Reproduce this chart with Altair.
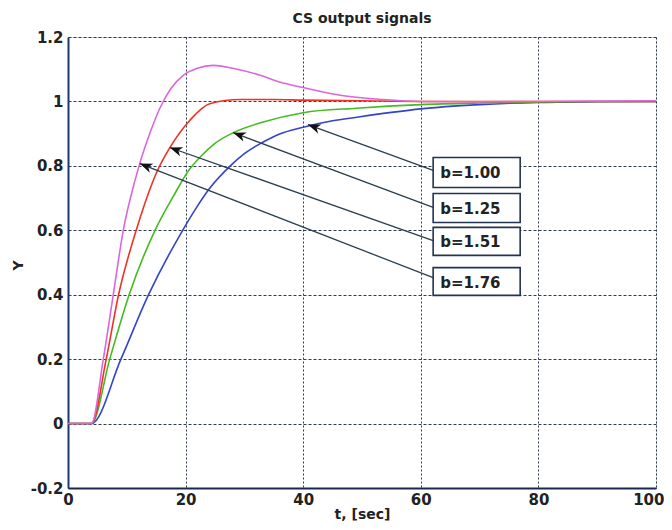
import math
import altair as alt
import pandas as pd

# ---- curve data ----
t_b100 = [0, 4, 9.0, 13.7, 19.5, 21.9, 24, 27.6, 30, 33.2, 36, 40, 45, 49.1, 55, 60, 70, 80, 90, 100]
y_b100 = [0, 0, 0.2, 0.4, 0.6, 0.672, 0.728, 0.8, 0.838, 0.874, 0.899, 0.92, 0.94, 0.951, 0.966, 0.977, 0.99, 0.997, 0.999, 1.0]

t_b125 = [0, 4, 7.1, 10.4, 14.8, 17.9, 20.7, 22.4, 25, 28.1, 33.2, 40, 49.1, 60, 70, 80, 90, 100]
y_b125 = [0, 0, 0.2, 0.4, 0.6, 0.705, 0.79, 0.826, 0.87, 0.903, 0.936, 0.965, 0.979, 0.99, 0.995, 0.998, 1.0, 1.0]

t_b151 = [0, 4, 6.5, 8.6, 11.6, 14.4, 15.1, 17.3, 20.7, 24.1, 29.3, 35, 40, 50, 60, 80, 100]
y_b151 = [0, 0, 0.2, 0.4, 0.6, 0.75, 0.781, 0.856, 0.941, 0.993, 1.006, 1.006, 1.004, 1.002, 1.0, 1.0, 1.0]

t_b176 = [0, 4, 6.0, 7.7, 9.4, 11.4, 12.2, 14, 15.6, 17.5, 19.6, 22, 24.7, 28, 32.7, 36, 40, 46.3, 53.6, 60, 70, 80, 90, 100]
y_b176 = [0, 0, 0.2, 0.4, 0.6, 0.755, 0.807, 0.905, 0.978, 1.04, 1.081, 1.103, 1.112, 1.103, 1.081, 1.06, 1.043, 1.019, 1.006, 1.0, 0.999, 1.0, 1.001, 1.002]

series_names = ["b=1.00", "b=1.25", "b=1.51", "b=1.76"]
series_colors = ["#3344cc", "#44bb22", "#ee3322", "#dd66dd"]

# ---- annotation data ----
ann_labels = ["b=1.00", "b=1.25", "b=1.51", "b=1.76"]
tip_t = [40.8, 28.1, 17.3, 12.2]
tip_y = [0.928, 0.903, 0.857, 0.807]
box_t0 = 62.1
box_t1 = 76.9
box_ytop = [0.826, 0.714, 0.609, 0.484]
box_ybot = [0.733, 0.624, 0.522, 0.398]
line_end_y = [0.786, 0.671, 0.568, 0.453]
text_t = 63.3

x_ticks = [0, 20, 40, 60, 80, 100]
y_ticks = [-0.2, 0, 0.2, 0.4, 0.6, 0.8, 1, 1.2]

W, H = 588, 451
PX_X = W / 100.0
PX_Y = H / 1.4

rows = []
for name, ts, ys in zip(series_names, [t_b100, t_b125, t_b151, t_b176],
                        [y_b100, y_b125, y_b151, y_b176]):
    for t, y in zip(ts, ys):
        rows.append({"series": name, "t": t, "y": y})
curves = pd.DataFrame(rows)

ann = pd.DataFrame({
    "label": ann_labels,
    "tip_t": tip_t,
    "tip_y": tip_y,
    "end_t": [box_t0] * 4,
    "end_y": line_end_y,
    "bx0": [box_t0] * 4,
    "bx1": [box_t1] * 4,
    "by0": box_ybot,
    "by1": box_ytop,
    "txt_t": [text_t] * 4,
    "txt_y": [(a + b) / 2 for a, b in zip(box_ytop, box_ybot)],
})
ann["ang"] = [
    math.degrees(math.atan2((ty - ey) * PX_Y, (et - tt) * PX_X))
    for tt, ty, et, ey in zip(ann.tip_t, ann.tip_y, ann.end_t, ann.end_y)
]

FONT = "DejaVu Sans"
TXT = "#222222"

xscale = alt.Scale(domain=[0, 100], nice=False, zero=False)
yscale = alt.Scale(domain=[-0.2, 1.2], nice=False, zero=False)

x_axis = alt.Axis(values=x_ticks, grid=True, gridDash=[2, 2], gridColor="#24304a",
                  gridOpacity=0.95, ticks=False, labelPadding=4, domainColor="#1a2850",
                  domainWidth=2, labelFont=FONT, labelFontWeight="bold", labelFontSize=15,
                  labelColor=TXT,
                  labelAlign={"condition": {"test": "datum.value == 100", "value": "right"}, "value": "center"},
                  labelOffset={"condition": {"test": "datum.value == 100", "value": 8}, "value": 0},
                  title="t, [sec]", titleFont=FONT, titleFontSize=14,
                  titleFontWeight="bold", titleColor=TXT, titleX=294, titleY=30,
                  titleBaseline="alphabetic", titleAlign="center", labelFlush=False)
y_axis = alt.Axis(values=y_ticks, grid=True, gridDash=[3, 2], gridColor="#24304a",
                  gridOpacity=0.95, ticks=False, labelPadding=5, domainColor="#1a3a70",
                  domainWidth=2, labelFont=FONT, labelFontWeight="bold", labelFontSize=15,
                  labelColor=TXT, labelExpr="replace(format(datum.value, '~g'), '\u2212', '-')",
                  title="Y", titleFont=FONT, titleFontSize=14, titleFontWeight="bold",
                  titleColor=TXT, titleX=-50, titleY=228, titleBaseline="middle",
                  titleAlign="center", labelFlush=False)

lines = alt.Chart(curves).mark_line(strokeWidth=1.6, interpolate="monotone").encode(
    x=alt.X("t:Q", scale=xscale, axis=x_axis),
    y=alt.Y("y:Q", scale=yscale, axis=y_axis),
    color=alt.Color("series:N", scale=alt.Scale(domain=series_names, range=series_colors), legend=None),
    order=alt.Order("t:Q"),
)

arrow_lines = alt.Chart(ann).mark_rule(color="#2a4050", strokeWidth=1.3).encode(
    x=alt.X("tip_t:Q", scale=xscale),
    y=alt.Y("tip_y:Q", scale=yscale),
    x2="end_t:Q",
    y2="end_y:Q",
)

heads = alt.Chart(ann).mark_point(
    shape="M0,0 L1,-0.38 L0.72,0 L1,0.38 Z", filled=True, color="#111111",
    opacity=1, size=640, strokeWidth=0,
).encode(
    x=alt.X("tip_t:Q", scale=xscale),
    y=alt.Y("tip_y:Q", scale=yscale),
    angle=alt.Angle("ang:Q", scale=None),
)

boxes = alt.Chart(ann).mark_rect(fill="white", stroke="#233350", strokeWidth=1.6).encode(
    x=alt.X("bx0:Q", scale=xscale),
    x2="bx1:Q",
    y=alt.Y("by0:Q", scale=yscale),
    y2="by1:Q",
)

texts = alt.Chart(ann).mark_text(align="left", baseline="middle", font=FONT,
                                 fontWeight="bold", fontSize=15, color=TXT, dy=1).encode(
    x=alt.X("txt_t:Q", scale=xscale),
    y=alt.Y("txt_y:Q", scale=yscale),
    text="label:N",
)

chart = alt.layer(lines, arrow_lines, boxes, texts, heads).properties(
    width=W, height=H,
    title=alt.TitleParams("CS output signals", font=FONT, fontSize=14, fontWeight="bold",
                          color=TXT, offset=4, anchor="middle"),
    autosize=alt.AutoSizeParams(type="none"),
    padding={"left": 60, "top": 29, "right": 8, "bottom": 34},
).configure_view(stroke="#1a2040", strokeWidth=1.5).configure(background="white")

chart.save("out.html", embed_options={"renderer": "svg", "actions": False})
